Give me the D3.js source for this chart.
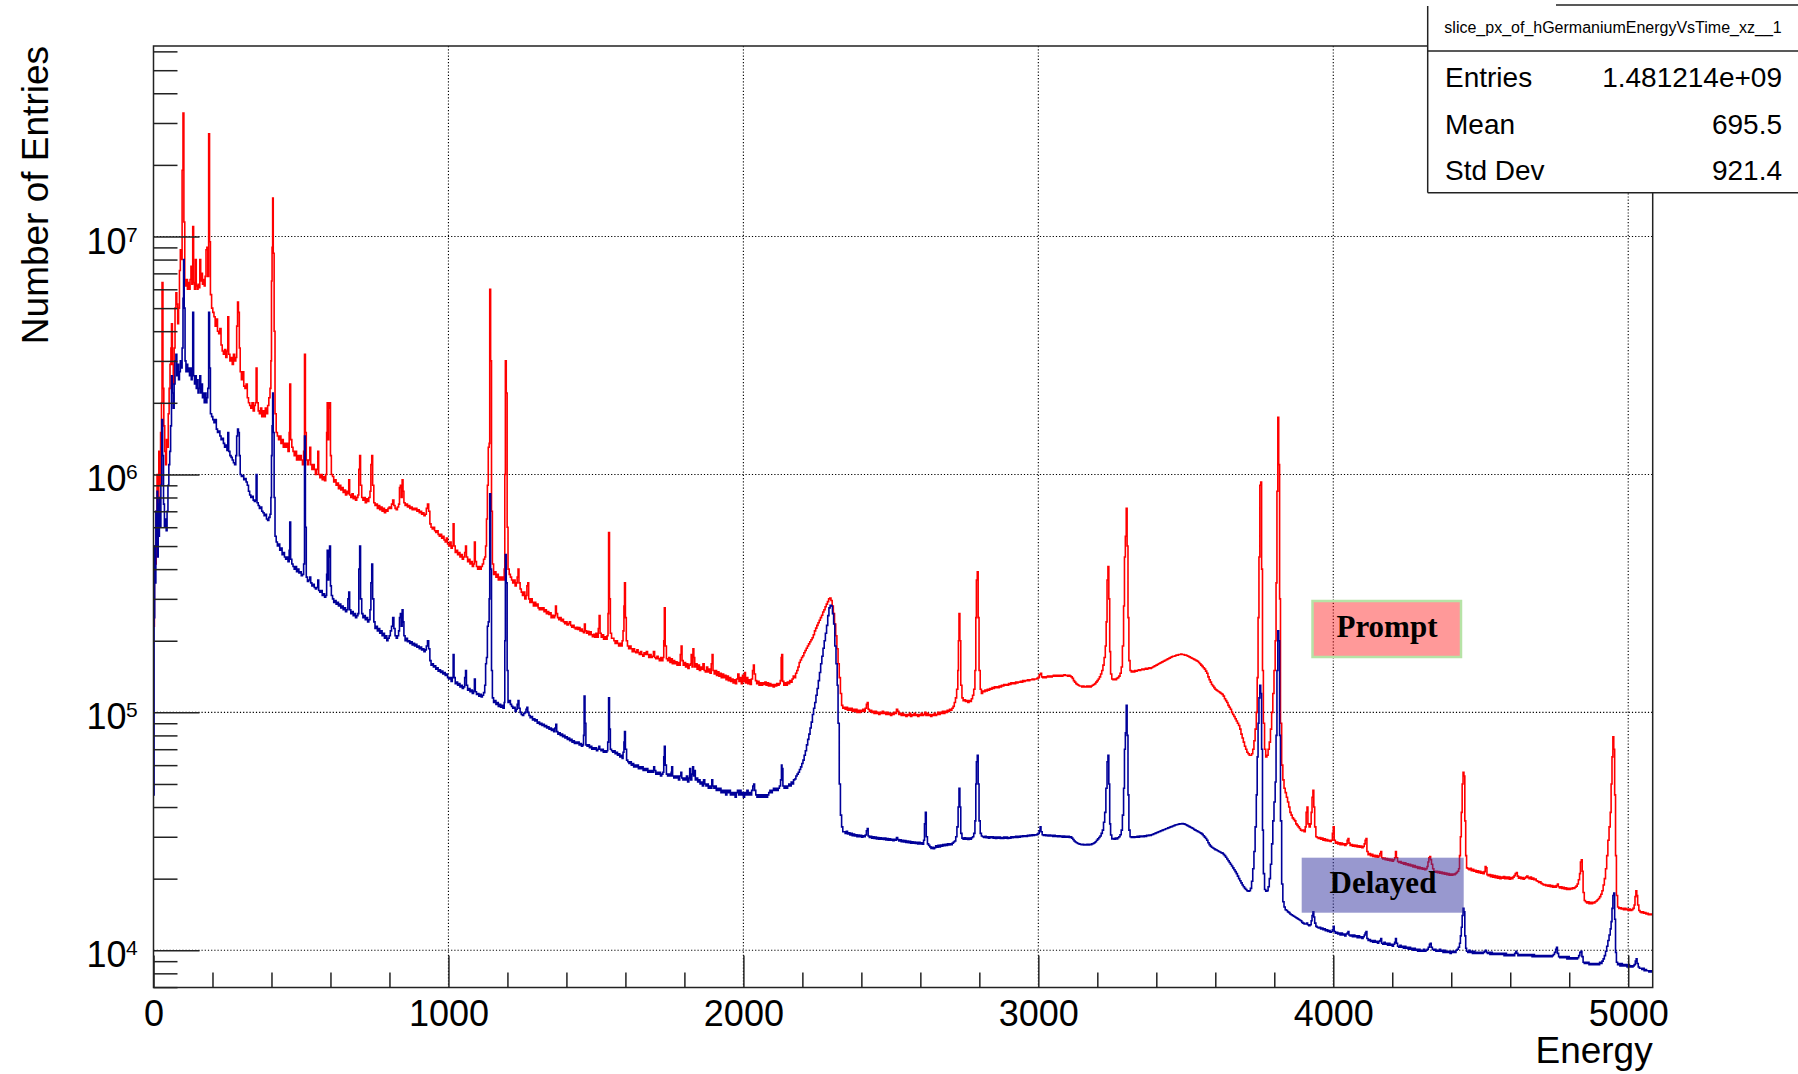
<!DOCTYPE html>
<html>
<head>
<meta charset="utf-8">
<script src="https://cdn.jsdelivr.net/npm/d3@7"></script>
<style>
  html, body { margin: 0; padding: 0; background: #fff; }
  svg { display: block; }
  text { font-family: "Liberation Sans", Arial, Helvetica, sans-serif; fill: #000; }
</style>
</head>
<body>
<svg id="chart" width="1798" height="1074"></svg>
<script>
// ---- axis and label content ----
const xMajorTicks = [0, 1000, 2000, 3000, 4000, 5000];
const yDecades = [4, 5, 6, 7];
const statsTitle = "slice_px_of_hGermaniumEnergyVsTime_xz__1";
const statsNames = ["Entries", "Mean", "Std Dev"];
const statsValues = ["1.481214e+09", "695.5", "921.4"];
const energyRange = [0, 5083];
const countRange = [6975, 6.32e7];

// ---- prompt spectrum: [energy, counts] per bin (bin starts at energy) ----
const promptLow = [
[0,2.3e5],[3,5.0e5],[6,4.2e5],[9,7.0e5],[12,1.0e6],[15,7.5e5],[18,1.25e6],[21,9.0e5],[24,1.5e6],[27,2.0e6],[29,6.4e6],[32,2.3e6],[35,1.6e6],[38,1.25e6],[41,1.1e6],[44,1.4e6],[47,1.3e6],[50,1.8e6],[53,2.3e6],[56,2.9e6],[59,3.4e6],[61,4.3e6],[64,2.9e6],[67,2.4e6],[70,3.4e6],[73,5.0e6],[76,5.8e6],[79,5.2e6],[82,4.3e6],[85,5.0e6],[88,7.2e6],[91,8.8e6],[94,8.0e6],[97,1.9e7],[100,3.3e7],[103,1.15e7],[106,6.6e6],[109,6.2e6],[112,6.6e6],[115,6.0e6],[118,6.4e6],[121,6.0e6],[124,6.6e6],[127,7.5e6],[130,6.3e6],[133,1.1e7],[136,6.4e6],[139,6.0e6],[142,8.0e6],[145,6.2e6],[148,6.0e6],[151,6.3e6],[154,6.1e6],[157,8.0e6],[160,6.5e6],[163,7.0e6],[166,6.3e6],[169,6.6e6],[172,6.2e6],[175,6.8e6],[178,8.8e6],[181,9.0e6],[184,6.8e6],[187,2.7e7],[190,9.5e6],[193,5.7e6],[197,5.0e6],
[201,4.8e6],[205,4.6e6],[209,4.2e6],[213,4.5e6],[217,4.0e6],[221,3.9e6],[225,4.1e6],[229,3.5e6],[233,3.3e6],[237,3.2e6],[241,3.35e6],[245,3.1e6],[249,3.3e6],[252,4.6e6],[255,3.2e6],[259,3.0e6],[263,3.1e6],[267,2.9e6],[271,3.2e6],[275,3.0e6],[279,3.1e6],[282,4.2e6],[285,5.3e6],[288,4.8e6],[291,3.4e6],[294,2.7e6],[298,2.5e6],[302,2.7e6],[306,2.35e6],[310,2.3e6],[314,2.4e6],[318,2.1e6],[322,2.0e6],[326,1.95e6],[330,1.9e6],[334,2.0e6],[338,1.85e6],[342,1.95e6],[345,2.0e6],[348,2.8e6],[351,2.0e6],[355,1.85e6],[359,1.8e6],[363,1.9e6],[367,1.75e6],[371,1.85e6],[375,1.75e6],[379,1.9e6],[383,1.8e6],[387,1.95e6],[391,2.1e6],[395,2.3e6],[398,3.0e6],[400,6.5e6],[402,9.0e6],[404,1.45e7],[406,8.5e6],[409,4.0e6],[412,1.8e6],
[416,1.5e6],[420,1.45e6],[424,1.4e6],[428,1.45e6],[432,1.35e6],[436,1.4e6],[440,1.3e6],[444,1.35e6],[448,1.3e6],[452,1.35e6],[456,1.25e6],[460,1.5e6],[462,2.4e6],[465,1.4e6],[469,1.3e6],[473,1.25e6],[477,1.2e6],[481,1.25e6],[485,1.15e6],[489,1.2e6],[493,1.15e6],[497,1.2e6],[501,1.15e6],[505,1.1e6],[509,1.25e6],[512,3.2e6],[515,1.5e6],[518,1.15e6],[522,1.1e6],[526,1.15e6],[530,1.3e6],[533,1.1e6],[537,1.05e6],[541,1.1e6],[545,1.05e6],[549,1.0e6],[553,1.05e6],[557,1.25e6],[560,1.0e6],[564,9.7e5],[568,1.0e6],[572,9.5e5],[576,9.8e5],[580,9.4e5],[584,1.0e6],[587,1.5e6],[589,2.0e6],[592,1.4e6],[594,1.9e6],[597,2.0e6],[600,1.2e6],[603,1.0e6],[607,9.8e5],[611,9.3e5],[615,9.5e5],[619,9.0e5],[623,9.2e5],[627,8.7e5],[631,9.0e5],[635,8.6e5],[639,8.8e5],[643,8.4e5],[647,8.6e5],[651,8.2e5],[655,8.5e5],[659,8.3e5],[662,9.5e5],[665,8.2e5],[669,8.0e5],[673,8.3e5],[677,7.9e5],[681,8.1e5],[685,7.8e5],[689,8.0e5],[693,8.2e5],[696,1.05e6],[699,1.2e6],[702,9.0e5]
];
const promptMid = [
[706,8.0e5],[710,7.8e5],[714,8.0e5],[718,7.6e5],[722,7.9e5],[726,7.7e5],[730,8.0e5],[734,8.5e5],[737,1.1e6],[740,1.2e6],[743,9.0e5],[747,7.6e5],[751,7.4e5],[755,7.5e5],[759,7.2e5],[763,7.4e5],[767,7.1e5],[771,7.3e5],[775,7.0e5],[779,7.2e5],[783,6.9e5],[787,7.1e5],[791,7.0e5],[795,7.2e5],[799,7.3e5],[803,7.2e5],[807,7.5e5],[811,7.8e5],[815,7.4e5],[819,7.2e5],[823,7.1e5],[827,7.3e5],[831,7.5e5],[834,8.8e5],[837,9.0e5],[840,8.0e5],[843,9.5e5],[846,8.5e5],[849,7.6e5],[853,7.4e5],[857,7.5e5],[861,7.3e5],[865,7.4e5],[869,7.2e5],[873,7.3e5],[877,7.1e5],[881,7.2e5],[885,7.1e5],[889,7.2e5],[893,7.0e5],[897,7.1e5],[901,6.9e5],[905,7.0e5],[909,6.8e5],[913,6.9e5],[917,6.7e5],[921,6.8e5],[925,7.2e5],[929,7.5e5],[933,7.0e5],[937,6.2e5],[941,6.0e5],[945,5.9e5],[949,6.0e5],[953,5.8e5],[957,5.7e5],[961,5.8e5],[965,5.6e5],[969,5.5e5],[973,5.6e5],[977,5.4e5],[981,5.5e5],[985,5.3e5],[989,5.2e5],[993,5.4e5],[997,5.1e5],
[1001,5.0e5],[1005,5.2e5],[1009,4.9e5],[1013,5.0e5],[1016,6.2e5],[1019,5.0e5],[1023,4.7e5],[1027,4.8e5],[1031,4.6e5],[1035,4.7e5],[1039,4.5e5],[1043,4.6e5],[1047,4.4e5],[1051,4.5e5],[1055,4.7e5],[1058,5.0e5],[1061,4.5e5],[1065,4.3e5],[1069,4.4e5],[1073,4.2e5],[1077,4.3e5],[1081,4.1e5],[1085,4.2e5],[1088,5.2e5],[1091,4.3e5],[1095,4.1e5],[1099,4.0e5],[1103,4.1e5],[1107,4.0e5],[1111,4.1e5],[1115,4.2e5],[1119,4.4e5],[1123,4.5e5],[1126,5.0e5],[1129,6.5e5],[1132,9.0e5],[1135,1.3e6],[1138,1.35e6],[1140,6.0e6],[1143,3.0e6],[1146,7.0e5],[1149,4.2e5],[1153,3.8e5],[1157,3.9e5],[1161,3.7e5],[1165,3.8e5],[1169,3.6e5],[1173,3.7e5],[1177,3.6e5],[1181,3.7e5],[1185,3.6e5],[1189,4.0e5],[1191,1.0e6],[1193,3.0e6],[1196,2.2e6],[1199,6.0e5],[1202,4.0e5],
[1206,3.8e5],[1210,3.7e5],[1214,3.6e5],[1218,3.5e5],[1222,3.6e5],[1226,3.4e5],[1230,3.5e5],[1233,3.7e5],[1236,4.0e5],[1239,3.5e5],[1243,3.3e5],[1247,3.2e5],[1251,3.1e5],[1255,3.2e5],[1259,3.0e5],[1263,3.1e5],[1266,3.4e5],[1269,3.5e5],[1272,3.0e5],[1276,2.9e5],[1280,3.0e5],[1284,2.9e5],[1288,2.8e5],[1292,2.9e5],[1296,2.8e5],[1300,2.85e5],[1304,2.75e5],[1308,2.7e5],[1312,2.75e5],[1316,2.7e5],[1320,2.75e5],[1324,2.65e5],[1328,2.7e5],[1332,2.6e5],[1336,2.65e5],[1340,2.58e5],[1344,2.62e5],[1348,2.5e5],[1352,2.56e5],[1356,2.5e5],[1360,2.55e5],[1363,2.8e5],[1366,2.6e5],[1370,2.5e5],[1374,2.45e5],[1378,2.5e5],[1382,2.42e5],[1386,2.46e5],[1390,2.4e5],[1394,2.36e5],[1398,2.4e5],[1402,2.33e5],[1406,2.36e5],[1410,2.4e5],[1414,2.32e5],[1418,2.28e5],[1422,2.32e5],[1426,2.27e5],[1430,2.24e5],[1434,2.28e5],[1438,2.23e5],[1442,2.27e5],[1446,2.2e5],[1450,2.24e5],[1454,2.19e5],[1458,2.16e5],[1461,2.35e5],[1464,2.2e5],[1468,2.15e5],[1472,2.19e5],[1476,2.12e5],[1480,2.18e5],[1484,2.12e5],[1488,2.08e5],[1492,2.13e5],[1496,2.07e5],[1500,2.15e5],[1504,2.07e5],[1508,2.25e5],[1511,2.55e5],[1514,2.15e5],[1518,2.07e5],[1522,2.12e5],[1526,2.03e5],[1530,2.08e5],[1534,2.03e5],[1538,2.1e5],[1541,2.6e5],[1543,5.7e5],[1546,3.0e5],[1549,2.15e5],[1553,2.05e5],
[1557,2.05e5],[1561,2.0e5],[1565,1.95e5],[1569,2.0e5],[1573,1.95e5],[1577,1.9e5],[1581,1.95e5],[1585,1.9e5],[1589,2.0e5],[1592,2.2e5],[1595,2.8e5],[1597,3.5e5],[1600,2.5e5],[1603,2.0e5],[1607,1.9e5],[1611,1.85e5],[1615,1.9e5],[1619,1.85e5],[1623,1.8e5],[1627,1.85e5],[1631,1.8e5],[1635,1.78e5],[1639,1.83e5],[1643,1.78e5],[1647,1.75e5],[1651,1.8e5],[1655,1.75e5],[1659,1.72e5],[1663,1.78e5],[1667,1.75e5],[1671,1.8e5],[1675,1.75e5],[1679,1.7e5],[1683,1.75e5],[1687,1.7e5],[1691,1.72e5],[1695,1.8e5],[1699,1.7e5],[1703,1.68e5],[1707,1.72e5],[1711,1.68e5],[1715,1.65e5],[1719,1.7e5],[1723,1.65e5],[1727,1.7e5],[1730,2.0e5],[1732,2.75e5],[1735,1.9e5],[1739,1.68e5],[1743,1.65e5],[1747,1.7e5],[1751,1.62e5],[1755,1.68e5],[1759,1.6e5],[1763,1.65e5],[1767,1.6e5],[1771,1.63e5],[1775,1.58e5],[1779,1.62e5],[1783,1.58e5],[1786,1.75e5],[1789,1.9e5],[1792,1.65e5],[1796,1.58e5],[1800,1.62e5],[1804,1.55e5],[1808,1.6e5],[1812,1.53e5],[1816,1.58e5],[1820,1.6e5],[1823,1.75e5],[1826,1.55e5],[1829,1.85e5],[1832,1.7e5],[1835,1.55e5],[1839,1.6e5],[1843,1.52e5],[1847,1.58e5],[1851,1.5e5],[1855,1.55e5],[1859,1.52e5],[1863,1.6e5],[1867,1.5e5],[1871,1.48e5],[1875,1.55e5],[1879,1.48e5],[1883,1.52e5],[1887,1.46e5],[1891,1.6e5],[1894,1.75e5],[1897,1.5e5],[1901,1.45e5],[1905,1.5e5],[1909,1.43e5],[1913,1.48e5],[1917,1.42e5],[1921,1.46e5],[1925,1.4e5],[1929,1.45e5],[1933,1.4e5],[1937,1.43e5],[1941,1.37e5],[1945,1.42e5],[1949,1.36e5],[1953,1.4e5],[1957,1.35e5],[1961,1.38e5],[1965,1.33e5],[1969,1.37e5],[1973,1.32e5],[1977,1.38e5],[1981,1.45e5],[1985,1.35e5],[1989,1.4e5],[1993,1.32e5],[1997,1.43e5],[2001,1.35e5],[2004,1.47e5],[2007,1.33e5],[2011,1.4e5],[2015,1.32e5],[2019,1.37e5],[2023,1.31e5],[2027,1.38e5],[2031,1.5e5],[2034,1.58e5],[2037,1.45e5],[2041,1.36e5],[2045,1.32e5],[2049,1.35e5],[2053,1.3e5],[2057,1.33e5],[2061,1.3e5],[2065,1.33e5],[2069,1.31e5],[2073,1.34e5],[2077,1.3e5],[2081,1.33e5],[2085,1.29e5],[2089,1.32e5],[2093,1.29e5],[2097,1.31e5],[2101,1.28e5],[2105,1.31e5],[2109,1.29e5],[2113,1.32e5],[2117,1.3e5],[2121,1.32e5],[2125,1.36e5],[2128,1.7e5],[2130,1.75e5],
[2133,1.35e5],[2137,1.3e5],[2141,1.33e5],[2145,1.3e5],[2149,1.34e5],[2153,1.32e5],[2157,1.36e5],[2161,1.34e5],[2165,1.38e5],[2169,1.42e5],[2173,1.4e5],[2177,1.46e5],[2181,1.5e5],[2185,1.55e5],[2189,1.62e5],[2193,1.66e5],[2197,1.7e5],[2201,1.73e5],[2205,1.78e5],[2209,1.82e5],[2213,1.86e5],[2217,1.9e5],[2221,1.94e5],[2225,1.98e5],[2229,2.02e5],[2233,2.06e5],[2237,2.12e5],[2241,2.2e5],[2245,2.26e5],[2249,2.32e5],[2253,2.38e5],[2257,2.44e5],[2261,2.5e5],[2265,2.56e5],[2269,2.64e5],[2273,2.7e5],[2277,2.78e5],[2281,2.85e5],[2285,2.92e5],[2289,3.0e5],[2293,3.02e5],[2297,2.95e5],[2301,2.8e5],[2305,2.6e5],[2309,2.35e5],[2313,2.1e5],[2317,1.85e5],[2321,1.6e5],[2325,1.4e5],[2329,1.2e5],[2333,1.07e5],[2337,1.04e5]
];
const promptHigh = [
[2341,1.05e5],[2345,1.03e5],[2349,1.05e5],[2353,1.02e5],[2357,1.04e5],[2361,1.02e5],[2365,1.04e5],[2369,1.01e5],[2373,1.03e5],[2377,1.01e5],[2381,1.03e5],[2385,1.0e5],[2389,1.02e5],[2393,1.0e5],[2397,1.02e5],[2401,1.01e5],[2405,1.03e5],[2409,1.01e5],[2413,1.04e5],[2417,1.08e5],[2420,1.1e5],[2423,1.03e5],[2427,1.01e5],[2431,1.02e5],[2435,1.0e5],[2439,1.01e5],[2443,9.9e4],[2447,1.01e5],[2451,9.9e4],[2455,1.0e5],[2459,9.8e4],[2463,1.0e5],[2467,9.9e4],[2471,1.01e5],[2475,9.9e4],[2479,1.0e5],[2483,9.8e4],[2487,1.0e5],[2491,9.8e4],[2495,9.9e4],[2499,9.7e4],[2503,9.9e4],[2507,9.8e4],[2511,1.0e5],[2515,9.9e4],[2519,1.03e5],[2523,1.01e5],[2527,9.8e4],[2531,9.9e4],[2535,9.7e4],[2539,9.9e4],[2543,9.7e4],[2547,9.8e4],[2551,9.6e4],[2555,9.8e4],[2559,9.7e4],[2563,9.9e4],[2567,9.6e4],[2571,9.8e4],[2575,9.7e4],[2579,9.9e4],[2583,9.7e4],[2587,9.8e4],[2591,9.6e4],[2595,9.8e4],[2599,9.7e4],[2603,9.9e4],[2607,9.7e4],[2611,9.8e4],[2615,1.0e5],[2619,9.7e4],[2623,9.9e4],[2627,9.7e4],[2631,9.8e4],[2635,9.6e4],[2639,9.8e4],[2643,9.7e4],[2647,9.9e4],[2651,9.7e4],[2655,9.8e4],[2659,1.0e5],[2663,9.8e4],[2667,1.0e5],[2671,9.9e4],[2675,1.01e5],[2679,9.9e4],[2683,1.01e5],[2687,1.0e5],[2691,1.02e5],[2695,1.01e5],[2699,1.03e5],[2703,1.02e5],[2707,1.04e5],[2711,1.06e5],[2715,1.1e5],[2719,1.15e5],[2723,1.25e5],[2727,1.5e5],[2729,2.0e5],[2731,2.6e5],[2734,2.0e5],[2737,1.3e5],[2741,1.15e5],[2745,1.12e5],[2749,1.13e5],[2753,1.11e5],[2757,1.12e5],[2761,1.1e5],[2765,1.12e5],[2769,1.11e5],[2773,1.14e5],[2777,1.18e5],[2781,1.25e5],[2785,1.5e5],[2788,2.5e5],[2790,3.6e5],[2793,3.9e5],[2796,2.5e5],[2799,1.5e5],[2803,1.25e5],[2807,1.2e5],
[2811,1.23e5],[2815,1.22e5],[2819,1.24e5],[2823,1.23e5],[2827,1.25e5],[2831,1.24e5],[2835,1.26e5],[2839,1.25e5],[2843,1.27e5],[2847,1.26e5],[2851,1.28e5],[2855,1.27e5],[2859,1.28e5],[2863,1.27e5],[2867,1.29e5],[2871,1.28e5],[2875,1.3e5],[2879,1.29e5],[2883,1.31e5],[2887,1.3e5],[2891,1.31e5],[2895,1.3e5],[2899,1.32e5],[2903,1.31e5],[2907,1.33e5],[2911,1.32e5],[2915,1.33e5],[2919,1.32e5],[2923,1.34e5],[2927,1.33e5],[2931,1.34e5],[2935,1.34e5],[2939,1.35e5],[2943,1.34e5],[2947,1.36e5],[2951,1.35e5],[2955,1.36e5],[2959,1.36e5],[2963,1.37e5],[2967,1.36e5],[2971,1.37e5],[2975,1.37e5],[2979,1.38e5],[2983,1.37e5],[2987,1.38e5],[2991,1.38e5],[2995,1.39e5],[2999,1.4e5],[3003,1.44e5],[3007,1.46e5],[3011,1.41e5],[3015,1.4e5],[3019,1.41e5],[3023,1.4e5],[3027,1.41e5],[3031,1.42e5],[3035,1.41e5],[3039,1.42e5],[3043,1.41e5],[3047,1.42e5],[3051,1.43e5],[3055,1.42e5],[3059,1.43e5],[3063,1.42e5],[3067,1.43e5],[3071,1.42e5],[3075,1.43e5],[3079,1.42e5],[3083,1.43e5],[3087,1.44e5],[3091,1.43e5],[3095,1.43e5],[3099,1.42e5],[3103,1.43e5],[3107,1.42e5],[3111,1.41e5],[3115,1.39e5],[3119,1.36e5],[3123,1.34e5],[3127,1.32e5],[3131,1.31e5],[3135,1.3e5],[3139,1.29e5],[3143,1.29e5],[3147,1.28e5],[3151,1.29e5],[3155,1.28e5],[3159,1.28e5],[3163,1.29e5],[3167,1.28e5],[3171,1.29e5],[3175,1.28e5],[3179,1.29e5],[3183,1.3e5],[3187,1.31e5],[3191,1.32e5],[3195,1.34e5],[3199,1.36e5],[3203,1.38e5],[3207,1.41e5],[3211,1.45e5],[3215,1.5e5],[3219,1.58e5],[3223,1.7e5],[3227,1.9e5],[3230,2.4e5],[3233,3.6e5],[3236,4.1e5],[3239,3.0e5],[3242,1.8e5],[3245,1.45e5],[3249,1.38e5],[3253,1.37e5],[3257,1.38e5],[3261,1.37e5],[3265,1.39e5],[3269,1.4e5],[3273,1.42e5],[3277,1.46e5],[3281,1.55e5],[3285,1.9e5],[3289,2.8e5],[3292,4.5e5],[3295,5.5e5],[3298,7.2e5],[3301,5.0e5],[3304,2.5e5],[3307,1.65e5],[3311,1.5e5],[3315,1.48e5],[3319,1.49e5],[3323,1.48e5],[3327,1.5e5],[3331,1.49e5],[3335,1.5e5],[3339,1.51e5],[3343,1.5e5],[3347,1.51e5],[3351,1.52e5],[3355,1.51e5],[3359,1.52e5],[3363,1.53e5],[3367,1.52e5],[3371,1.53e5],[3375,1.54e5],[3379,1.53e5],[3383,1.54e5],[3387,1.55e5],[3391,1.56e5],[3395,1.57e5],[3399,1.58e5],[3403,1.59e5],[3407,1.6e5],[3411,1.61e5],[3415,1.62e5],[3419,1.63e5],[3423,1.64e5],[3427,1.65e5],[3431,1.66e5],[3435,1.67e5],[3439,1.68e5],[3443,1.69e5],[3447,1.7e5],[3451,1.71e5],[3455,1.72e5],[3459,1.72e5],[3463,1.73e5],[3467,1.74e5],[3471,1.74e5],[3475,1.75e5],[3479,1.75e5],[3483,1.76e5],[3487,1.75e5],[3491,1.75e5],[3495,1.74e5],[3499,1.74e5],[3503,1.73e5],
[3507,1.72e5],[3511,1.71e5],[3515,1.7e5],[3519,1.69e5],[3523,1.68e5],[3527,1.67e5],[3531,1.66e5],[3535,1.65e5],[3539,1.64e5],[3543,1.62e5],[3547,1.6e5],[3551,1.58e5],[3555,1.56e5],[3559,1.54e5],[3563,1.52e5],[3567,1.49e5],[3571,1.46e5],[3575,1.41e5],[3579,1.37e5],[3583,1.34e5],[3587,1.31e5],[3591,1.29e5],[3595,1.27e5],[3599,1.25e5],[3603,1.24e5],[3607,1.23e5],[3611,1.22e5],[3615,1.21e5],[3619,1.2e5],[3623,1.19e5],[3627,1.17e5],[3631,1.14e5],[3635,1.12e5],[3639,1.1e5],[3643,1.07e5],[3647,1.05e5],[3651,1.03e5],[3655,1.0e5],[3659,9.8e4],[3663,9.6e4],[3667,9.4e4],[3671,9.2e4],[3675,9.0e4],[3679,8.8e4],[3683,8.5e4],[3687,8.1e4],[3691,7.8e4],[3695,7.5e4],[3699,7.2e4],[3703,7.0e4],[3707,6.8e4],[3711,6.7e4],[3715,6.6e4],[3719,6.6e4],[3723,6.7e4],[3727,7.0e4],[3731,7.6e4],[3735,8.5e4],[3739,1.0e5],[3742,1.4e5],[3745,2.5e5],[3748,4.5e5],[3751,9.0e5],[3754,9.3e5],[3757,4.0e5],[3760,1.5e5],[3763,9.0e4],[3767,7.0e4],[3771,6.5e4],[3775,6.6e4],[3779,7.0e4],[3783,7.5e4],[3787,8.5e4],[3791,1.0e5],[3795,1.2e5],[3799,1.5e5],[3803,2.0e5],[3806,3.5e5],[3809,8.5e5],[3812,1.74e6],[3815,1.1e6],[3818,3.0e5],[3821,9.0e4],[3825,6.0e4],[3829,5.2e4],[3833,4.8e4],[3837,4.6e4],[3841,4.4e4],[3845,4.2e4],[3849,4.0e4],[3853,3.8e4],[3857,3.7e4],[3861,3.6e4],[3865,3.55e4],[3869,3.5e4],[3873,3.4e4],[3877,3.35e4],[3881,3.3e4],[3885,3.25e4],[3889,3.2e4],[3893,3.18e4],[3897,3.2e4],[3901,3.15e4],[3905,3.3e4],[3908,3.8e4],[3911,4.0e4],[3914,3.4e4],[3918,3.3e4],[3922,3.4e4],[3925,3.8e4],[3928,4.4e4],[3931,4.7e4],[3934,4.0e4],[3937,3.3e4],[3941,3.0e4],[3945,2.98e4],[3949,2.95e4],[3953,2.98e4],[3957,2.93e4],[3961,2.96e4],[3965,2.9e4],[3969,2.94e4],[3973,2.89e4],[3977,2.92e4],[3981,2.88e4],[3985,2.9e4],[3989,2.87e4],[3993,2.9e4],[3997,3.1e4],[4000,3.3e4],[4003,2.9e4],[4007,2.82e4],[4011,2.85e4],[4015,2.8e4],[4019,2.83e4],[4023,2.78e4],[4027,2.82e4],[4031,2.78e4],[4035,2.8e4],[4039,2.76e4],[4043,2.8e4],[4047,2.9e4],[4050,2.95e4],[4053,2.82e4],[4057,2.76e4],[4061,2.78e4],[4065,2.74e4],[4069,2.77e4],[4073,2.73e4],[4077,2.76e4],[4081,2.72e4],[4085,2.75e4],[4089,2.71e4],[4093,2.74e4],[4097,2.7e4],[4101,2.73e4],[4105,2.8e4],[4108,2.9e4],[4111,2.95e4],[4114,2.6e4],[4118,2.52e4],[4122,2.55e4],[4126,2.5e4],[4130,2.53e4],[4134,2.48e4],[4138,2.51e4],[4142,2.47e4],[4146,2.5e4],[4150,2.46e4],[4154,2.49e4],[4158,2.55e4],[4161,2.6e4],[4164,2.45e4],[4168,2.42e4],[4172,2.44e4],[4176,2.4e4],[4180,2.43e4],[4184,2.39e4],[4188,2.42e4],[4192,2.38e4],[4196,2.41e4],[4200,2.37e4],[4204,2.4e4],[4208,2.45e4],[4211,2.6e4],[4214,2.45e4],[4218,2.36e4],[4222,2.34e4],[4226,2.36e4],[4230,2.32e4],[4234,2.34e4],[4238,2.3e4],[4242,2.33e4],[4246,2.29e4],[4250,2.31e4],[4254,2.27e4],[4258,2.3e4],[4262,2.26e4],[4266,2.28e4],[4270,2.24e4],[4274,2.27e4],[4278,2.23e4],[4282,2.25e4],[4286,2.21e4],[4290,2.24e4],[4294,2.2e4],[4298,2.22e4],[4302,2.19e4],[4306,2.21e4],[4310,2.18e4],[4314,2.2e4],[4318,2.25e4],[4321,2.35e4],[4324,2.45e4],[4327,2.48e4],[4330,2.4e4],[4333,2.3e4],[4337,2.2e4],[4341,2.15e4],[4345,2.13e4],[4349,2.15e4],[4353,2.12e4],[4357,2.14e4],[4361,2.11e4],[4365,2.13e4],[4369,2.1e4],[4373,2.12e4],[4377,2.09e4],[4381,2.11e4],[4385,2.08e4],[4389,2.1e4],[4393,2.07e4],[4397,2.09e4],[4401,2.07e4],[4405,2.09e4],[4409,2.08e4],[4413,2.1e4],[4417,2.12e4],[4421,2.15e4],[4425,2.2e4],[4428,2.5e4],[4431,3.0e4],[4434,3.8e4],[4437,5.0e4],[4440,5.6e4],[4443,5.4e4],[4446,3.5e4],[4449,2.5e4],[4452,2.22e4],[4456,2.2e4],[4460,2.18e4],[4464,2.21e4],[4468,2.16e4],[4472,2.19e4],[4476,2.15e4],[4480,2.17e4],[4484,2.13e4],[4488,2.16e4],[4492,2.12e4],[4496,2.15e4],[4500,2.11e4],[4504,2.13e4],[4508,2.1e4],[4512,2.14e4],[4515,2.25e4],[4518,2.22e4],[4521,2.08e4],[4525,2.06e4],[4529,2.08e4],[4533,2.04e4],[4537,2.07e4],[4541,2.03e4],[4545,2.06e4],[4549,2.02e4],[4553,2.05e4],[4557,2.01e4],[4561,2.04e4],[4565,2.0e4],[4569,2.03e4],[4573,2.01e4],[4577,2.04e4],[4581,2.0e4],[4585,2.03e4],[4589,2.0e4],[4593,2.03e4],[4597,1.99e4],[4601,2.02e4],[4605,2.0e4],[4609,2.03e4],[4613,2.06e4],[4617,2.1e4],[4621,2.12e4],[4624,2.05e4],[4628,2.01e4],[4632,2.03e4],[4636,2.0e4],[4640,2.02e4],[4644,1.99e4],[4648,2.01e4],[4652,2.03e4],[4656,2.05e4],[4660,2.02e4],[4664,2.0e4],[4668,2.03e4],[4672,1.99e4],[4676,2.01e4],[4680,1.98e4],[4684,1.99e4],[4688,1.96e4],[4692,1.95e4],[4696,1.93e4],[4700,1.94e4],[4704,1.91e4],[4708,1.9e4],[4712,1.88e4],[4716,1.89e4],[4720,1.87e4],[4724,1.88e4],[4728,1.86e4],[4732,1.88e4],[4736,1.85e4],[4740,1.87e4],[4744,1.84e4],[4748,1.86e4],[4752,1.84e4],[4756,1.87e4],[4760,1.9e4],[4763,1.85e4],[4767,1.83e4],[4771,1.85e4],[4775,1.82e4],[4779,1.84e4],[4783,1.81e4],[4787,1.83e4],[4791,1.8e4],[4795,1.82e4],[4799,1.8e4],[4803,1.82e4],[4807,1.81e4],[4811,1.83e4],[4815,1.82e4],[4819,1.84e4],[4823,1.86e4],[4827,1.9e4],[4831,1.98e4],[4835,2.1e4],[4838,2.35e4],[4841,2.4e4],[4844,2.15e4],[4847,1.75e4],[4851,1.62e4],[4855,1.6e4],[4859,1.58e4],[4863,1.6e4],[4867,1.57e4],[4871,1.59e4],[4875,1.57e4],[4879,1.59e4],[4883,1.58e4],[4887,1.6e4],[4891,1.61e4],[4895,1.63e4],[4899,1.65e4],[4903,1.68e4],[4907,1.72e4],[4911,1.78e4],[4915,1.88e4],[4919,2.0e4],[4923,2.2e4],[4927,2.5e4],[4931,2.9e4],[4935,3.3e4],[4939,3.8e4],[4942,5.0e4],[4945,6.5e4],[4948,7.9e4],[4951,7.0e4],[4954,4.5e4],[4957,2.5e4],[4960,1.7e4],[4964,1.52e4],[4968,1.5e4],[4972,1.51e4],[4976,1.49e4],[4980,1.5e4],[4984,1.48e4],[4988,1.5e4],[4992,1.48e4],[4996,1.49e4],[5000,1.47e4],[5004,1.49e4],[5008,1.47e4],[5012,1.48e4],[5016,1.5e4],[5020,1.55e4],[5023,1.68e4],[5026,1.78e4],[5029,1.7e4],[5032,1.55e4],[5036,1.47e4],[5040,1.45e4],[5044,1.44e4],[5048,1.45e4],[5052,1.43e4],[5056,1.44e4],[5060,1.42e4],[5064,1.43e4],[5068,1.41e4],[5072,1.42e4],[5076,1.41e4],[5080,1.42e4]
];

// ---- delayed spectrum: [energy, counts] per bin ----
const delayedLow = [
[0,4.5e4],[2,2.5e5],[4,5.0e5],[6,3.5e5],[8,7.0e5],[10,5.0e5],[12,8.5e5],[14,4.5e5],[16,7.5e5],[18,5.5e5],[20,8.0e5],[22,6.0e5],[25,9.0e5],[28,1.7e6],[31,1.2e6],[34,7.5e5],[37,6.0e5],[40,6.5e5],[43,5.8e5],[46,7.0e5],[49,9.0e5],[52,1.1e6],[55,1.25e6],[58,1.6e6],[61,2.6e6],[64,2.2e6],[67,1.9e6],[70,2.4e6],[73,3.0e6],[76,3.2e6],[79,2.6e6],[82,2.9e6],[85,2.5e6],[88,2.7e6],[91,3.0e6],[94,2.8e6],[97,3.4e6],[100,5.5e6],[102,8.0e6],[104,5.0e6],[107,3.0e6],[110,2.7e6],[113,2.9e6],[116,2.7e6],[119,2.8e6],[122,2.6e6],[125,2.8e6],[128,2.5e6],[131,2.7e6],[133,4.8e6],[136,2.6e6],[139,2.4e6],[142,2.6e6],[145,2.3e6],[148,2.5e6],[151,2.2e6],[154,2.3e6],[157,2.6e6],[160,2.2e6],[163,2.4e6],[166,2.1e6],[169,2.2e6],[172,2.0e6],[175,2.2e6],[178,2.0e6],[181,2.1e6],[184,2.3e6],[187,4.8e6],[190,2.8e6],[193,1.8e6],[197,1.75e6],
[201,1.7e6],[205,1.65e6],[209,1.7e6],[213,1.55e6],[217,1.5e6],[221,1.52e6],[225,1.45e6],[229,1.4e6],[233,1.42e6],[237,1.35e6],[241,1.3e6],[245,1.33e6],[249,1.26e6],[252,1.5e6],[255,1.25e6],[259,1.2e6],[263,1.18e6],[267,1.15e6],[271,1.12e6],[275,1.1e6],[279,1.2e6],[282,1.45e6],[285,1.55e6],[288,1.5e6],[291,1.2e6],[294,1.0e6],[298,9.8e5],[302,9.9e5],[306,9.5e5],[310,9.6e5],[314,9.3e5],[318,9.0e5],[322,8.5e5],[326,8.2e5],[330,8.0e5],[334,8.1e5],[338,7.8e5],[342,7.7e5],[345,7.8e5],[348,1.0e6],[351,7.6e5],[355,7.4e5],[359,7.2e5],[363,7.3e5],[367,7.0e5],[371,6.9e5],[375,6.7e5],[379,6.8e5],[383,6.5e5],[387,6.4e5],[391,6.6e5],[395,6.8e5],[398,8.0e5],[400,1.2e6],[402,1.6e6],[404,2.2e6],[406,1.5e6],[409,8.0e5],[412,5.5e5],
[416,5.2e5],[420,5.0e5],[424,5.1e5],[428,4.8e5],[432,4.9e5],[436,4.6e5],[440,4.7e5],[444,4.5e5],[448,4.4e5],[452,4.5e5],[456,4.3e5],[460,4.8e5],[462,6.3e5],[465,4.4e5],[469,4.2e5],[473,4.1e5],[477,4.0e5],[481,4.1e5],[485,3.9e5],[489,4.0e5],[493,3.85e5],[497,3.9e5],[501,3.75e5],[505,3.8e5],[509,4.2e5],[512,1.45e6],[515,6.0e5],[518,3.7e5],[522,3.55e5],[526,3.6e5],[530,3.7e5],[533,3.5e5],[537,3.4e5],[541,3.45e5],[545,3.35e5],[549,3.3e5],[553,3.35e5],[557,3.6e5],[560,3.25e5],[564,3.2e5],[568,3.25e5],[572,3.1e5],[576,3.15e5],[580,3.05e5],[584,3.1e5],[587,3.8e5],[589,4.8e5],[592,3.6e5],[594,4.5e5],[597,5.0e5],[600,3.4e5],[603,3.1e5],[607,3.0e5],[611,2.9e5],[615,2.95e5],[619,2.85e5],[623,2.9e5],[627,2.8e5],[631,2.85e5],[635,2.75e5],[639,2.8e5],[643,2.7e5],[647,2.75e5],[651,2.65e5],[655,2.7e5],[659,3.0e5],[662,3.2e5],[665,2.7e5],[669,2.6e5],[673,2.65e5],[677,2.55e5],[681,2.6e5],[685,2.5e5],[689,2.55e5],[693,2.6e5],[696,4.0e5],[699,5.0e5],[702,3.0e5]
];
const delayedMid = [
[706,2.6e5],[710,2.5e5],[714,2.55e5],[718,2.45e5],[722,2.5e5],[726,2.4e5],[730,2.45e5],[734,2.7e5],[737,3.5e5],[740,4.2e5],[743,3.0e5],[747,2.4e5],[751,2.25e5],[755,2.3e5],[759,2.2e5],[763,2.25e5],[767,2.15e5],[771,2.2e5],[775,2.1e5],[779,2.15e5],[783,2.05e5],[787,2.1e5],[791,2.0e5],[795,2.05e5],[799,2.1e5],[803,2.2e5],[807,2.3e5],[811,2.5e5],[815,2.25e5],[819,2.1e5],[823,2.05e5],[827,2.1e5],[831,2.2e5],[834,2.5e5],[837,2.6e5],[840,2.3e5],[843,2.7e5],[846,2.4e5],[849,2.1e5],[853,2.0e5],[857,2.05e5],[861,1.98e5],[865,2.0e5],[869,1.95e5],[873,1.98e5],[877,1.92e5],[881,1.95e5],[885,1.9e5],[889,1.93e5],[893,1.88e5],[897,1.9e5],[901,1.85e5],[905,1.88e5],[909,1.83e5],[913,1.85e5],[917,1.8e5],[921,1.83e5],[925,1.9e5],[929,2.0e5],[933,1.85e5],[937,1.65e5],[941,1.58e5],[945,1.6e5],[949,1.55e5],[953,1.57e5],[957,1.52e5],[961,1.54e5],[965,1.49e5],[969,1.51e5],[973,1.47e5],[977,1.49e5],[981,1.45e5],[985,1.47e5],[989,1.43e5],[993,1.45e5],[997,1.4e5],
[1001,1.38e5],[1005,1.4e5],[1009,1.35e5],[1013,1.4e5],[1016,1.75e5],[1019,1.4e5],[1023,1.32e5],[1027,1.34e5],[1031,1.3e5],[1035,1.32e5],[1039,1.28e5],[1043,1.3e5],[1047,1.26e5],[1051,1.28e5],[1055,1.4e5],[1058,1.5e5],[1061,1.3e5],[1065,1.24e5],[1069,1.26e5],[1073,1.22e5],[1077,1.24e5],[1081,1.2e5],[1085,1.23e5],[1088,1.38e5],[1091,1.22e5],[1095,1.19e5],[1099,1.2e5],[1103,1.17e5],[1107,1.19e5],[1111,1.16e5],[1115,1.18e5],[1119,1.21e5],[1123,1.3e5],[1126,1.6e5],[1129,1.7e5],[1132,2.3e5],[1135,2.4e5],[1138,3.0e5],[1140,8.3e5],[1143,4.0e5],[1146,1.5e5],[1149,1.15e5],[1153,1.1e5],[1157,1.12e5],[1161,1.08e5],[1165,1.1e5],[1169,1.06e5],[1173,1.08e5],[1177,1.05e5],[1181,1.07e5],[1185,1.04e5],[1189,1.1e5],[1191,2.0e5],[1193,4.6e5],[1196,3.5e5],[1199,1.5e5],[1202,1.1e5],
[1206,1.12e5],[1210,1.08e5],[1214,1.06e5],[1218,1.04e5],[1222,1.05e5],[1226,1.01e5],[1230,1.03e5],[1233,1.08e5],[1236,1.12e5],[1239,1.04e5],[1243,1.0e5],[1247,9.8e4],[1251,9.7e4],[1255,9.9e4],[1259,1.0e5],[1263,1.03e5],[1266,1.05e5],[1269,1.0e5],[1273,9.7e4],[1277,9.5e4],[1281,9.6e4],[1285,9.3e4],[1289,9.4e4],[1293,9.2e4],[1297,9.3e4],[1301,9.0e4],[1305,9.1e4],[1309,8.9e4],[1313,9.0e4],[1317,8.8e4],[1321,8.9e4],[1325,8.7e4],[1329,8.8e4],[1333,8.6e4],[1337,8.7e4],[1341,8.5e4],[1345,8.6e4],[1349,8.4e4],[1353,8.5e4],[1357,8.3e4],[1361,8.6e4],[1364,8.9e4],[1367,8.3e4],[1371,8.1e4],[1375,8.2e4],[1379,8.0e4],[1383,8.1e4],[1387,7.9e4],[1391,8.0e4],[1395,7.8e4],[1399,7.9e4],[1403,7.7e4],[1407,7.8e4],[1411,7.6e4],[1415,7.7e4],[1419,7.5e4],[1423,7.6e4],[1427,7.4e4],[1431,7.5e4],[1435,7.4e4],[1439,7.5e4],[1443,7.3e4],[1447,7.4e4],[1451,7.2e4],[1455,7.3e4],[1458,8.0e4],[1460,1.17e5],[1463,9.0e4],[1466,7.3e4],[1470,7.2e4],[1474,7.3e4],[1478,7.1e4],[1482,7.2e4],[1486,7.0e4],[1490,7.1e4],[1494,7.0e4],[1498,7.1e4],[1502,6.9e4],[1506,7.0e4],[1510,7.2e4],[1513,7.0e4],[1517,6.9e4],[1521,7.0e4],[1525,6.8e4],[1529,6.9e4],[1533,6.8e4],[1537,6.9e4],[1540,7.5e4],[1543,1.15e5],[1546,8.5e4],[1549,7.0e4],[1553,6.9e4],[1557,6.8e4],[1561,6.9e4],[1565,6.7e4],[1569,6.8e4],[1573,6.6e4],[1577,6.7e4],[1581,6.5e4],[1585,6.6e4],[1589,6.4e4],[1592,6.8e4],[1595,7.5e4],[1597,8.3e4],[1600,7.0e4],[1604,6.3e4],[1608,6.2e4],[1612,6.1e4],[1616,6.2e4],[1620,6.0e4],[1624,6.1e4],[1628,5.9e4],[1632,6.0e4],[1636,5.9e4],[1640,6.0e4],[1644,5.8e4],[1648,5.9e4],[1652,5.8e4],[1656,5.9e4],[1660,5.7e4],[1664,5.8e4],[1668,5.7e4],[1672,5.8e4],[1676,5.6e4],[1680,5.7e4],[1684,5.6e4],[1688,5.7e4],[1692,5.6e4],[1696,5.9e4],[1699,5.7e4],[1703,5.5e4],[1707,5.6e4],[1711,5.5e4],[1715,5.6e4],[1719,5.4e4],[1723,5.5e4],[1727,5.6e4],[1730,6.5e4],[1732,7.2e4],[1735,6.0e4],[1739,5.5e4],[1743,5.4e4],[1747,5.5e4],[1751,5.4e4],[1755,5.6e4],[1757,5.9e4],[1760,5.4e4],[1764,5.3e4],[1768,5.4e4],[1772,5.3e4],[1776,5.4e4],[1780,5.2e4],[1784,5.4e4],[1788,5.6e4],[1791,5.3e4],[1795,5.2e4],[1799,5.3e4],[1803,5.2e4],[1807,5.4e4],[1811,5.1e4],[1815,5.3e4],[1818,5.8e4],[1821,5.2e4],[1825,5.5e4],[1828,5.9e4],[1831,5.4e4],[1834,5.7e4],[1837,5.2e4],[1841,5.3e4],[1845,5.1e4],[1849,5.2e4],[1853,5.0e4],[1857,5.1e4],[1861,4.9e4],[1865,5.2e4],[1869,5.0e4],[1873,4.9e4],[1877,5.0e4],[1881,4.8e4],[1885,4.9e4],[1889,4.8e4],[1893,5.2e4],[1896,4.9e4],[1900,4.8e4],[1904,4.9e4],[1908,4.7e4],[1912,4.8e4],[1916,4.7e4],[1920,4.8e4],[1924,4.6e4],[1928,4.7e4],[1932,4.6e4],[1936,4.7e4],[1940,4.5e4],[1944,4.7e4],[1948,4.6e4],[1952,4.7e4],[1956,4.5e4],[1960,4.6e4],[1964,4.5e4],[1968,4.6e4],[1972,4.4e4],[1976,4.6e4],[1980,4.7e4],[1984,4.5e4],[1988,4.7e4],[1992,4.5e4],[1996,4.6e4],[2000,4.4e4],[2004,4.6e4],[2008,4.5e4],[2012,4.7e4],[2016,4.5e4],[2020,4.6e4],[2024,4.5e4],[2028,4.7e4],[2032,4.9e4],[2035,5.0e4],[2038,4.7e4],[2042,4.5e4],[2046,4.4e4],[2050,4.5e4],[2054,4.4e4],[2058,4.5e4],[2062,4.4e4],[2066,4.5e4],[2070,4.4e4],[2074,4.5e4],[2078,4.4e4],[2082,4.5e4],[2086,4.6e4],[2090,4.7e4],[2094,4.6e4],[2098,4.7e4],[2102,4.8e4],[2106,4.7e4],[2110,4.8e4],[2114,4.7e4],[2118,4.8e4],[2122,4.9e4],[2126,5.2e4],[2129,6.0e4],[2131,5.8e4],[2134,4.9e4],[2138,4.8e4],[2142,4.9e4],[2146,4.8e4],[2150,4.9e4],[2154,5.0e4],[2158,4.9e4],[2162,5.1e4],[2166,5.0e4],[2170,5.2e4],[2174,5.25e4],[2178,5.4e4],[2182,5.5e4],[2186,5.6e4],[2190,5.75e4],[2194,5.9e4],[2198,6.1e4],[2202,6.3e4],[2206,6.6e4],[2210,6.9e4],[2214,7.3e4],[2218,7.7e4],[2222,8.1e4],[2226,8.6e4],[2230,9.1e4],[2234,9.8e4],[2238,1.04e5],[2242,1.1e5],[2246,1.18e5],[2250,1.26e5],[2254,1.36e5],[2258,1.47e5],[2262,1.6e5],[2266,1.72e5],[2270,1.86e5],[2274,2.0e5],[2278,2.15e5],[2282,2.32e5],[2286,2.55e5],[2290,2.75e5],[2294,2.82e5],[2298,2.8e5],[2302,2.6e5],[2306,2.35e5],[2310,1.9e5],[2314,1.6e5],[2318,1.3e5],[2321,9.0e4],[2325,5.0e4],[2329,3.7e4],[2333,3.3e4],[2337,3.15e4]
];
const delayedHigh = [
[2341,3.15e4],[2345,3.1e4],[2349,3.16e4],[2353,3.08e4],[2357,3.12e4],[2361,3.05e4],[2365,3.1e4],[2369,3.03e4],[2373,3.08e4],[2377,3.02e4],[2381,3.06e4],[2385,3.0e4],[2389,3.05e4],[2393,3.0e4],[2397,3.04e4],[2401,2.99e4],[2405,3.03e4],[2409,3.0e4],[2413,3.05e4],[2417,3.18e4],[2420,3.25e4],[2423,3.02e4],[2427,2.98e4],[2431,3.01e4],[2435,2.96e4],[2439,3.0e4],[2443,2.95e4],[2447,2.99e4],[2451,2.94e4],[2455,2.98e4],[2459,2.93e4],[2463,2.97e4],[2467,2.93e4],[2471,2.96e4],[2475,2.92e4],[2479,2.96e4],[2483,2.91e4],[2487,2.95e4],[2491,2.9e4],[2495,2.94e4],[2499,2.9e4],[2503,2.93e4],[2507,2.89e4],[2511,2.93e4],[2515,2.9e4],[2519,2.98e4],[2523,2.92e4],[2527,2.88e4],[2531,2.91e4],[2535,2.86e4],[2539,2.9e4],[2543,2.85e4],[2547,2.89e4],[2551,2.84e4],[2555,2.88e4],[2559,2.83e4],[2563,2.87e4],[2567,2.82e4],[2571,2.86e4],[2575,2.82e4],[2579,2.85e4],[2583,2.81e4],[2587,2.84e4],[2591,2.8e4],[2595,2.84e4],[2599,2.8e4],[2603,2.83e4],[2607,2.79e4],[2611,2.9e4],[2614,3.4e4],[2617,3.8e4],[2620,3.0e4],[2624,2.8e4],[2628,2.76e4],[2632,2.72e4],[2636,2.68e4],[2640,2.71e4],[2644,2.67e4],[2648,2.7e4],[2652,2.75e4],[2656,2.71e4],[2660,2.76e4],[2664,2.72e4],[2668,2.77e4],[2672,2.74e4],[2676,2.78e4],[2680,2.75e4],[2684,2.79e4],[2688,2.76e4],[2692,2.8e4],[2696,2.77e4],[2700,2.8e4],[2704,2.78e4],[2708,2.82e4],[2712,2.85e4],[2716,2.88e4],[2720,3.0e4],[2724,3.3e4],[2728,4.0e4],[2731,4.8e4],[2734,4.0e4],[2737,3.1e4],[2741,2.96e4],[2745,2.93e4],[2749,2.97e4],[2753,2.93e4],[2757,2.96e4],[2761,2.92e4],[2765,2.96e4],[2769,2.93e4],[2773,2.97e4],[2777,3.0e4],[2781,3.1e4],[2785,3.5e4],[2788,5.0e4],[2790,6.2e4],[2793,6.6e4],[2796,5.0e4],[2799,3.5e4],[2803,3.1e4],[2807,3.02e4],
[2811,3.0e4],[2815,2.98e4],[2819,3.01e4],[2823,2.97e4],[2827,3.0e4],[2831,2.96e4],[2835,3.0e4],[2839,2.97e4],[2843,3.0e4],[2847,2.96e4],[2851,2.99e4],[2855,2.95e4],[2859,2.99e4],[2863,2.96e4],[2867,2.99e4],[2871,2.95e4],[2875,2.98e4],[2879,2.95e4],[2883,2.99e4],[2887,2.96e4],[2891,2.99e4],[2895,2.95e4],[2899,2.98e4],[2903,2.96e4],[2907,3.0e4],[2911,2.97e4],[2915,3.0e4],[2919,2.98e4],[2923,3.01e4],[2927,2.98e4],[2931,3.01e4],[2935,2.99e4],[2939,3.02e4],[2943,3.0e4],[2947,3.03e4],[2951,3.01e4],[2955,3.03e4],[2959,3.01e4],[2963,3.04e4],[2967,3.02e4],[2971,3.05e4],[2975,3.03e4],[2979,3.06e4],[2983,3.04e4],[2987,3.06e4],[2991,3.05e4],[2995,3.07e4],[2999,3.1e4],[3003,3.18e4],[3006,3.3e4],[3009,3.15e4],[3013,3.06e4],[3017,3.04e4],[3021,3.06e4],[3025,3.03e4],[3029,3.05e4],[3033,3.02e4],[3037,3.05e4],[3041,3.02e4],[3045,3.04e4],[3049,3.01e4],[3053,3.04e4],[3057,3.01e4],[3061,3.03e4],[3065,3.0e4],[3069,3.03e4],[3073,3.0e4],[3077,3.02e4],[3081,2.99e4],[3085,3.02e4],[3089,2.99e4],[3093,3.01e4],[3097,2.99e4],[3101,3.01e4],[3105,2.98e4],[3109,3.0e4],[3113,2.96e4],[3117,2.92e4],[3121,2.88e4],[3125,2.85e4],[3129,2.83e4],[3133,2.81e4],[3137,2.8e4],[3141,2.79e4],[3145,2.78e4],[3149,2.79e4],[3153,2.77e4],[3157,2.78e4],[3161,2.77e4],[3165,2.79e4],[3169,2.77e4],[3173,2.79e4],[3177,2.78e4],[3181,2.8e4],[3185,2.81e4],[3189,2.83e4],[3193,2.86e4],[3197,2.9e4],[3201,2.94e4],[3205,2.98e4],[3209,3.02e4],[3213,3.1e4],[3217,3.2e4],[3221,3.45e4],[3225,3.8e4],[3229,4.8e4],[3233,6.2e4],[3236,6.6e4],[3239,5.0e4],[3242,3.4e4],[3245,3.05e4],[3249,2.94e4],[3253,2.95e4],[3257,2.93e4],[3261,2.96e4],[3265,2.94e4],[3269,2.97e4],[3273,3.0e4],[3277,3.06e4],[3281,3.2e4],[3285,3.7e4],[3289,4.8e4],[3292,7.0e4],[3295,8.2e4],[3298,1.07e5],[3301,8.0e4],[3304,4.5e4],[3307,3.2e4],[3311,3.0e4],[3315,2.98e4],[3319,3.0e4],[3323,2.98e4],[3327,3.0e4],[3331,2.99e4],[3335,3.01e4],[3339,2.99e4],[3343,3.02e4],[3347,3.0e4],[3351,3.02e4],[3355,3.0e4],[3359,3.03e4],[3363,3.01e4],[3367,3.04e4],[3371,3.03e4],[3375,3.05e4],[3379,3.04e4],[3383,3.06e4],[3387,3.07e4],[3391,3.09e4],[3395,3.1e4],[3399,3.12e4],[3403,3.13e4],[3407,3.15e4],[3411,3.16e4],[3415,3.18e4],[3419,3.19e4],[3423,3.21e4],[3427,3.22e4],[3431,3.24e4],[3435,3.25e4],[3439,3.27e4],[3443,3.28e4],[3447,3.3e4],[3451,3.31e4],[3455,3.33e4],[3459,3.34e4],[3463,3.36e4],[3467,3.37e4],[3471,3.38e4],[3475,3.39e4],[3479,3.4e4],[3483,3.4e4],[3487,3.41e4],[3491,3.4e4],[3495,3.39e4],[3499,3.37e4],
[3503,3.35e4],[3507,3.33e4],[3511,3.31e4],[3515,3.29e4],[3519,3.27e4],[3523,3.25e4],[3527,3.22e4],[3531,3.2e4],[3535,3.18e4],[3539,3.16e4],[3543,3.14e4],[3547,3.12e4],[3551,3.1e4],[3555,3.07e4],[3559,3.03e4],[3563,2.99e4],[3567,2.95e4],[3571,2.9e4],[3575,2.83e4],[3579,2.78e4],[3583,2.74e4],[3587,2.71e4],[3591,2.69e4],[3595,2.67e4],[3599,2.65e4],[3603,2.64e4],[3607,2.62e4],[3611,2.6e4],[3615,2.59e4],[3619,2.57e4],[3623,2.56e4],[3627,2.53e4],[3631,2.5e4],[3635,2.46e4],[3639,2.42e4],[3643,2.38e4],[3647,2.34e4],[3651,2.3e4],[3655,2.26e4],[3659,2.22e4],[3663,2.18e4],[3667,2.14e4],[3671,2.1e4],[3675,2.05e4],[3679,2.0e4],[3683,1.96e4],[3687,1.92e4],[3691,1.88e4],[3695,1.85e4],[3699,1.82e4],[3703,1.8e4],[3707,1.78e4],[3711,1.77e4],[3715,1.78e4],[3719,1.82e4],[3723,1.95e4],[3727,2.2e4],[3731,2.6e4],[3735,3.3e4],[3739,4.5e4],[3742,6.5e4],[3745,9.0e4],[3748,1.15e5],[3751,1.3e5],[3754,1.2e5],[3757,7.0e4],[3760,3.2e4],[3763,2.1e4],[3767,1.8e4],[3771,1.77e4],[3775,1.78e4],[3779,1.85e4],[3783,2.0e4],[3787,2.3e4],[3791,2.8e4],[3795,3.5e4],[3799,4.2e4],[3803,5.1e4],[3806,8.0e4],[3809,1.5e5],[3812,2.2e5],[3815,2.0e5],[3818,8.0e4],[3821,3.5e4],[3825,1.9e4],[3829,1.6e4],[3833,1.52e4],[3837,1.48e4],[3841,1.47e4],[3845,1.45e4],[3849,1.44e4],[3853,1.42e4],[3857,1.41e4],[3861,1.4e4],[3865,1.39e4],[3869,1.38e4],[3873,1.37e4],[3877,1.36e4],[3881,1.35e4],[3885,1.34e4],[3889,1.33e4],[3893,1.31e4],[3897,1.3e4],[3901,1.29e4],[3905,1.29e4],[3909,1.3e4],[3913,1.28e4],[3917,1.27e4],[3921,1.28e4],[3925,1.33e4],[3928,1.4e4],[3931,1.45e4],[3934,1.38e4],[3937,1.3e4],[3941,1.26e4],[3945,1.25e4],[3949,1.24e4],[3953,1.25e4],[3957,1.23e4],[3961,1.24e4],[3965,1.22e4],[3969,1.23e4],[3973,1.21e4],[3977,1.22e4],[3981,1.2e4],[3985,1.21e4],[3989,1.19e4],[3993,1.2e4],[3997,1.22e4],[4000,1.26e4],[4003,1.2e4],[4007,1.18e4],[4011,1.19e4],[4015,1.17e4],[4019,1.18e4],[4023,1.16e4],[4027,1.18e4],[4031,1.16e4],[4035,1.17e4],[4039,1.15e4],[4043,1.17e4],[4047,1.18e4],[4050,1.2e4],[4053,1.16e4],[4057,1.15e4],[4061,1.16e4],[4065,1.14e4],[4069,1.16e4],[4073,1.14e4],[4077,1.15e4],[4081,1.13e4],[4085,1.15e4],[4089,1.13e4],[4093,1.14e4],[4097,1.12e4],[4101,1.14e4],[4105,1.16e4],[4108,1.18e4],[4111,1.2e4],[4114,1.12e4],[4118,1.1e4],[4122,1.11e4],[4126,1.09e4],[4130,1.1e4],[4134,1.08e4],[4138,1.1e4],[4142,1.08e4],[4146,1.09e4],[4150,1.07e4],[4154,1.09e4],[4158,1.1e4],[4161,1.12e4],[4164,1.07e4],[4168,1.06e4],[4172,1.08e4],[4176,1.06e4],[4180,1.07e4],[4184,1.05e4],[4188,1.07e4],[4192,1.05e4],[4196,1.06e4],[4200,1.04e4],[4204,1.06e4],[4208,1.08e4],[4211,1.12e4],[4214,1.07e4],[4218,1.04e4],[4222,1.03e4],[4226,1.05e4],[4230,1.03e4],[4234,1.04e4],[4238,1.02e4],[4242,1.04e4],[4246,1.02e4],[4250,1.03e4],[4254,1.01e4],[4258,1.03e4],[4262,1.01e4],[4266,1.02e4],[4270,1.0e4],[4274,1.02e4],[4278,1.0e4],[4282,1.01e4],[4286,9.9e3],[4290,1.01e4],[4294,9.9e3],[4298,1.0e4],[4302,9.9e3],[4306,1.01e4],[4310,9.9e3],[4314,1.0e4],[4318,1.01e4],[4322,1.03e4],[4326,1.06e4],[4329,1.07e4],[4332,1.03e4],[4336,1.01e4],[4340,1.0e4],[4344,1.01e4],[4348,9.9e3],[4352,1.0e4],[4356,9.9e3],[4360,1.01e4],[4364,9.9e3],[4368,1.0e4],[4372,9.8e3],[4376,1.0e4],[4380,9.8e3],[4384,9.9e3],[4388,9.8e3],[4392,9.9e3],[4396,9.7e3],[4400,9.9e3],[4404,9.8e3],[4408,9.9e3],[4412,9.8e3],[4416,1.0e4],[4420,1.01e4],[4424,1.03e4],[4428,1.07e4],[4431,1.15e4],[4434,1.25e4],[4437,1.4e4],[4440,1.5e4],[4443,1.45e4],[4446,1.15e4],[4449,1.02e4],[4452,9.9e3],[4456,9.8e3],[4460,1.0e4],[4464,9.8e3],[4468,9.9e3],[4472,9.7e3],[4476,9.9e3],[4480,9.7e3],[4484,9.8e3],[4488,9.7e3],[4492,9.8e3],[4496,9.7e3],[4500,9.8e3],[4504,9.7e3],[4508,9.8e3],[4512,9.9e3],[4516,1.0e4],[4519,9.8e3],[4523,9.7e3],[4527,9.8e3],[4531,9.6e3],[4535,9.8e3],[4539,9.6e3],[4543,9.7e3],[4547,9.6e3],[4551,9.7e3],[4555,9.6e3],[4559,9.7e3],[4563,9.6e3],[4567,9.7e3],[4571,9.6e3],[4575,9.7e3],[4579,9.5e3],[4583,9.7e3],[4587,9.5e3],[4591,9.6e3],[4595,9.5e3],[4599,9.6e3],[4603,9.5e3],[4607,9.6e3],[4611,9.5e3],[4615,9.7e3],[4619,9.9e3],[4622,9.7e3],[4626,9.5e3],[4630,9.6e3],[4634,9.5e3],[4638,9.6e3],[4642,9.5e3],[4646,9.6e3],[4650,9.5e3],[4654,9.6e3],[4658,9.5e3],[4662,9.6e3],[4666,9.5e3],[4670,9.6e3],[4674,9.4e3],[4678,9.6e3],[4682,9.4e3],[4686,9.5e3],[4690,9.4e3],[4694,9.5e3],[4698,9.4e3],[4702,9.5e3],[4706,9.4e3],[4710,9.5e3],[4714,9.4e3],[4718,9.5e3],[4722,9.4e3],[4726,9.5e3],[4730,9.4e3],[4734,9.5e3],[4738,9.4e3],[4742,9.5e3],[4746,9.6e3],[4750,9.8e3],[4754,1.01e4],[4757,1.03e4],[4760,9.7e3],[4764,9.4e3],[4768,9.3e3],[4772,9.4e3],[4776,9.3e3],[4780,9.4e3],[4784,9.3e3],[4788,9.4e3],[4792,9.2e3],[4796,9.4e3],[4800,9.2e3],[4804,9.3e3],[4808,9.2e3],[4812,9.3e3],[4816,9.2e3],[4820,9.3e3],[4824,9.2e3],[4828,9.3e3],[4832,9.5e3],[4836,9.8e3],[4840,9.9e3],[4843,9.4e3],[4847,8.9e3],[4851,8.8e3],[4855,8.9e3],[4859,8.8e3],[4863,8.9e3],[4867,8.7e3],[4871,8.8e3],[4875,8.7e3],[4879,8.8e3],[4883,8.7e3],[4887,8.8e3],[4891,8.7e3],[4895,8.8e3],[4899,8.7e3],[4903,8.9e3],[4907,8.8e3],[4911,9.0e3],[4915,9.2e3],[4919,9.5e3],[4923,9.9e3],[4927,1.04e4],[4931,1.1e4],[4935,1.16e4],[4939,1.23e4],[4942,1.32e4],[4945,1.5e4],[4948,1.7e4],[4951,1.74e4],[4954,1.35e4],[4957,9.8e3],[4960,8.9e3],[4964,8.7e3],[4968,8.8e3],[4972,8.6e3],[4976,8.8e3],[4980,8.6e3],[4984,8.7e3],[4988,8.6e3],[4992,8.7e3],[4996,8.5e3],[5000,8.7e3],[5004,8.5e3],[5008,8.6e3],[5012,8.5e3],[5016,8.6e3],[5020,8.7e3],[5024,9.0e3],[5027,9.2e3],[5030,8.8e3],[5034,8.5e3],[5038,8.4e3],[5042,8.4e3],[5046,8.3e3],[5050,8.4e3],[5054,8.2e3],[5058,8.3e3],[5062,8.2e3],[5066,8.2e3],[5070,8.1e3],[5074,8.2e3],[5078,8.1e3],[5082,8.1e3]
];

const promptSpectrum = promptLow.concat(promptMid, promptHigh);
const delayedSpectrum = delayedLow.concat(delayedMid, delayedHigh);

// ---- layout ----
const svg = d3.select("#chart");
const frame = { left: 153.5, right: 1652.7, top: 46, bottom: 987.5 };
const ink = "#222";

const x = d3.scaleLinear().domain(energyRange).range([frame.left, frame.right]);
const y = d3.scaleLog().domain(countRange).range([frame.bottom, frame.top]);

svg.append("defs").append("clipPath").attr("id", "plotClip")
  .append("rect")
  .attr("x", frame.left).attr("y", frame.top)
  .attr("width", frame.right - frame.left).attr("height", frame.bottom - frame.top);

// dotted grid at the major ticks
const grid = svg.append("g").attr("stroke", "#000").attr("stroke-width", 1.1).attr("stroke-dasharray", "1.2,2");
grid.selectAll("line.gx").data(xMajorTicks.filter(d => d > 0)).join("line")
  .attr("x1", d => x(d)).attr("x2", d => x(d))
  .attr("y1", frame.top).attr("y2", frame.bottom);
grid.selectAll("line.gy").data(yDecades.map(k => Math.pow(10, k))).join("line")
  .attr("x1", frame.left).attr("x2", frame.right)
  .attr("y1", d => y(d)).attr("y2", d => y(d));

// histograms as step lines
const stepLine = d3.line()
  .x(d => x(d[0]))
  .y(d => y(d[1]))
  .curve(d3.curveStepAfter);

function closeHistogram(bins) {
  const last = bins[bins.length - 1];
  return bins.concat([[energyRange[1], last[1]]]);
}

const plotArea = svg.append("g").attr("clip-path", "url(#plotClip)");
plotArea.append("path")
  .datum(closeHistogram(promptSpectrum))
  .attr("fill", "none").attr("stroke", "#ff0000").attr("stroke-width", 1.6)
  .attr("stroke-linejoin", "miter")
  .attr("d", stepLine);
plotArea.append("path")
  .datum(closeHistogram(delayedSpectrum))
  .attr("fill", "none").attr("stroke", "#000099").attr("stroke-width", 1.6)
  .attr("stroke-linejoin", "miter")
  .attr("d", stepLine);

// axes: ticks point into the frame
const xMinorTicks = d3.range(0, energyRange[1], 200).filter(d => d % 1000 !== 0);
const yMajorTicks = yDecades.map(k => Math.pow(10, k));
const yMinorTicks = [];
for (let k = 3; k <= 7; k++) {
  for (let m = 2; m <= 9; m++) {
    const v = m * Math.pow(10, k);
    if (v >= countRange[0] && v <= countRange[1]) yMinorTicks.push(v);
  }
}

function styleAxis(g) {
  g.select(".domain").remove();
  g.attr("color", ink);
  g.selectAll(".tick line").attr("stroke-width", 1.5);
}

svg.append("g").attr("transform", `translate(0,${frame.bottom})`)
  .call(d3.axisBottom(x).tickValues(xMinorTicks).tickSizeInner(-15).tickSizeOuter(0).tickFormat(""))
  .call(styleAxis);

svg.append("g").attr("transform", `translate(0,${frame.bottom})`)
  .call(d3.axisBottom(x).tickValues(xMajorTicks).tickSizeInner(-32).tickSizeOuter(0).tickFormat(d3.format("d")))
  .call(styleAxis)
  .call(g => g.selectAll(".tick text")
    .attr("y", 38.5).attr("dy", null)
    .attr("fill", "#000")
    .style("font-family", "'Liberation Sans', Arial, sans-serif")
    .style("font-size", "36px"));

svg.append("g").attr("transform", `translate(${frame.left},0)`)
  .call(d3.axisLeft(y).tickValues(yMinorTicks).tickSizeInner(-24).tickSizeOuter(0).tickFormat(""))
  .call(styleAxis);

svg.append("g").attr("transform", `translate(${frame.left},0)`)
  .call(d3.axisLeft(y).tickValues(yMajorTicks).tickSizeInner(-46).tickSizeOuter(0).tickFormat(""))
  .call(styleAxis);

// y tick labels written as powers of ten
const yLabels = svg.append("g");
yDecades.forEach(k => {
  const py = y(Math.pow(10, k));
  yLabels.append("text")
    .attr("x", 126.5).attr("y", py + 17)
    .attr("text-anchor", "end")
    .style("font-size", "36px")
    .text("10");
  yLabels.append("text")
    .attr("x", 126).attr("y", py + 5)
    .attr("text-anchor", "start")
    .style("font-size", "21px")
    .text(String(k));
});

// frame
svg.append("rect")
  .attr("x", frame.left).attr("y", frame.top)
  .attr("width", frame.right - frame.left).attr("height", frame.bottom - frame.top)
  .attr("fill", "none").attr("stroke", ink).attr("stroke-width", 1.5);

// axis titles
svg.append("text")
  .attr("x", frame.right).attr("y", 1063)
  .attr("text-anchor", "end")
  .style("font-size", "37px")
  .text("Energy");

svg.append("text")
  .attr("transform", `translate(48,${frame.top}) rotate(-90)`)
  .attr("text-anchor", "end")
  .style("font-size", "37px")
  .text("Number of Entries");

// statistics box
const box = { left: 1427.7, top: 5, bottom: 192.7, split: 51, right: 1840 };
const stats = svg.append("g");
stats.append("rect")
  .attr("x", box.left).attr("y", box.top)
  .attr("width", box.right - box.left).attr("height", box.bottom - box.top)
  .attr("fill", "#fff");
const boxEdges = [
  [box.left, 6, box.left, box.bottom],
  [box.left, box.bottom, box.right, box.bottom],
  [1556, box.top, box.right, box.top],
  [box.left, box.split, box.right, box.split]
];
stats.selectAll("line").data(boxEdges).join("line")
  .attr("x1", d => d[0]).attr("y1", d => d[1])
  .attr("x2", d => d[2]).attr("y2", d => d[3])
  .attr("stroke", ink).attr("stroke-width", 1.5);
stats.append("text")
  .attr("x", 1613).attr("y", 33)
  .attr("text-anchor", "middle")
  .style("font-size", "16px")
  .text(statsTitle);
const rowBaselines = [87, 133.5, 180];
statsNames.forEach((name, i) => {
  stats.append("text")
    .attr("x", 1445).attr("y", rowBaselines[i])
    .style("font-size", "28px")
    .text(name);
  stats.append("text")
    .attr("x", 1782).attr("y", rowBaselines[i])
    .attr("text-anchor", "end")
    .style("font-size", "28px")
    .text(statsValues[i]);
});

// series tags
const tagFont = "'Liberation Serif', 'Times New Roman', serif";
svg.append("rect")
  .attr("x", 1312.5).attr("y", 601)
  .attr("width", 148.5).attr("height", 56)
  .attr("fill", "rgba(255,0,0,0.4)")
  .attr("stroke", "#b6e3a6").attr("stroke-width", 2.5);
svg.append("text")
  .attr("x", 1387).attr("y", 637)
  .attr("text-anchor", "middle")
  .style("font-family", tagFont).style("font-weight", "bold").style("font-size", "31px")
  .text("Prompt");

svg.append("rect")
  .attr("x", 1301.7).attr("y", 857.7)
  .attr("width", 162).attr("height", 55)
  .attr("fill", "rgba(50,50,160,0.5)");
svg.append("text")
  .attr("x", 1383).attr("y", 893)
  .attr("text-anchor", "middle")
  .style("font-family", tagFont).style("font-weight", "bold").style("font-size", "31px")
  .text("Delayed");
</script>
</body>
</html>
